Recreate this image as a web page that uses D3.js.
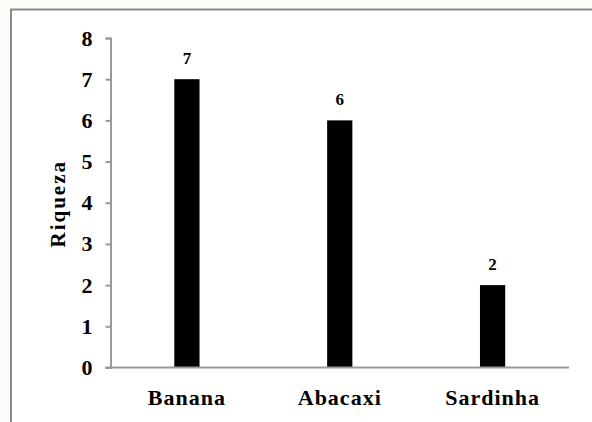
<!DOCTYPE html>
<html>
    <head>
        <meta charset="utf-8">
        <title>Riqueza</title>
        <script type="text/javascript" src="https://d3js.org/d3.v7.min.js"></script>
        <style type="text/css">
            body {
                margin: 0;
                background: #fdfcf8;
            }
            .axis path,
            .axis line {
                stroke: #999999;
                stroke-width: 2px;
            }
        </style>
    </head>
    <body>
        <script type="text/javascript">

        // chart data
        const categories = ["Banana", "Abacaxi", "Sardinha"];
        const values = [7, 6, 2];
        const yTicks = [0, 1, 2, 3, 4, 5, 6, 7, 8];

        const width = 592;
        const height = 422;
        const fontSerif = "'Liberation Serif', 'Times New Roman', serif";
        // plot edges
        const plotLeft = 110.5, plotRight = 569, plotTop = 38, plotBottom = 367.5;

        const dataset = categories.map((c, i) => ({cat: c, val: values[i]}));

        const xScale = d3.scaleBand()
                        .domain(categories)
                        .range([plotLeft, plotRight])
                        .paddingInner(0.835)
                        .paddingOuter(0.4175);
        const yScale = d3.scaleLinear()
                        .domain([0, 8])
                        .range([plotBottom, plotTop]);

        const svg = d3.select("body")
                    .append("svg")
                    .attr("width", width)
                    .attr("height", height)
                    .style("display", "block");

        // white chart area with grey frame (top + left visible)
        svg.append("rect")
            .attr("x", 11).attr("y", 9.5)
            .attr("width", width).attr("height", height)
            .attr("fill", "#ffffff")
            .attr("stroke", "#8a8a8a")
            .attr("stroke-width", 2);

        // bars
        svg.selectAll("rect.bar")
            .data(dataset)
            .enter()
            .append("rect")
            .attr("class", "bar")
            .attr("x", d => xScale(d.cat))
            .attr("y", d => yScale(d.val))
            .attr("width", xScale.bandwidth())
            .attr("height", d => plotBottom - yScale(d.val))
            .attr("fill", "#000");

        // value labels
        svg.selectAll("text.val")
            .data(dataset)
            .enter()
            .append("text")
            .attr("class", "val")
            .attr("x", d => xScale(d.cat) + xScale.bandwidth() / 2)
            .attr("y", d => yScale(d.val) - 15)
            .attr("text-anchor", "middle")
            .style("font-family", fontSerif)
            .style("font-weight", "bold")
            .style("font-size", "17px")
            .text(d => d.val);

        // y axis
        const leftAxis = d3.axisLeft(yScale)
                        .tickValues(yTicks)
                        .tickSize(5)
                        .tickSizeOuter(5)
                        .tickPadding(13);
        const yg = svg.append("g")
            .attr("class", "y axis")
            .attr("transform", "translate(" + plotLeft + ",0)")
            .call(leftAxis);
        yg.selectAll("text")
            .style("font-family", fontSerif)
            .style("font-weight", "bold")
            .style("font-size", "22px")
            .attr("fill", "#000");

        // x axis
        const bottomAxis = d3.axisBottom(xScale)
                        .tickSize(0)
                        .tickPadding(22);
        const xg = svg.append("g")
            .attr("class", "x axis")
            .attr("transform", "translate(0," + plotBottom + ")")
            .call(bottomAxis);
        xg.select(".domain")
            .attr("d", "M" + (plotLeft - 5) + ",0H" + plotRight);
        xg.selectAll("text")
            .style("font-family", fontSerif)
            .style("font-weight", "bold")
            .style("font-size", "22px")
            .style("letter-spacing", "1px")
            .attr("fill", "#000");

        // y title
        svg.append("text")
            .attr("class", "y title")
            .attr("transform", "translate(65," + (yScale(4) + 1) + ") rotate(-90)")
            .attr("text-anchor", "middle")
            .style("font-family", fontSerif)
            .style("font-weight", "bold")
            .style("font-size", "21px")
            .style("letter-spacing", "2px")
            .text("Riqueza");

        </script>
    </body>
</html>
